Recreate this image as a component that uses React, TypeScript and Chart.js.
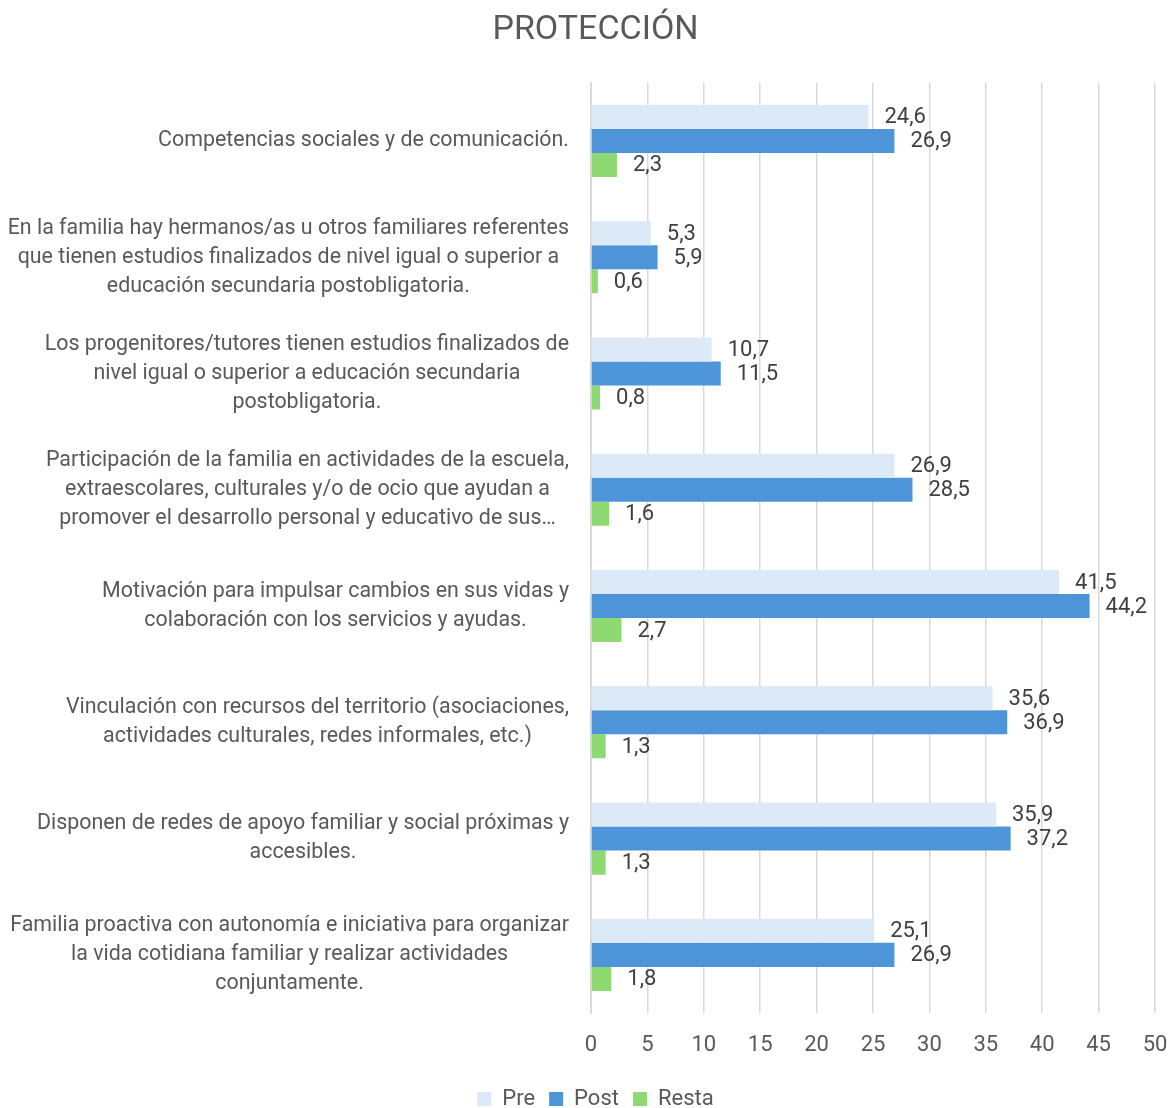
import React, { useEffect, useRef } from "react";
import { Chart, registerables } from "chart.js";

Chart.register(...registerables);

const categories: string[][] = [
  ["Competencias sociales y de comunicación."],
  [
    "En la familia hay hermanos/as u otros familiares referentes",
    "que tienen estudios finalizados de nivel igual o superior a",
    "educación secundaria postobligatoria.",
  ],
  [
    "Los progenitores/tutores tienen estudios finalizados de",
    "nivel igual o superior a educación secundaria",
    "postobligatoria.",
  ],
  [
    "Participación de la familia en actividades de la escuela,",
    "extraescolares, culturales y/o de ocio que ayudan a",
    "promover el desarrollo personal y educativo de sus…",
  ],
  [
    "Motivación para impulsar cambios en sus vidas y",
    "colaboración con los servicios y ayudas.",
  ],
  [
    "Vinculación con recursos del territorio (asociaciones,",
    "actividades culturales, redes informales, etc.)",
  ],
  [
    "Disponen de redes de apoyo familiar y social próximas y",
    "accesibles.",
  ],
  [
    "Familia proactiva con autonomía e iniciativa para organizar",
    "la vida cotidiana familiar y realizar actividades",
    "conjuntamente.",
  ],
];

const preValues = [24.6, 5.3, 10.7, 26.9, 41.5, 35.6, 35.9, 25.1];
const postValues = [26.9, 5.9, 11.5, 28.5, 44.2, 36.9, 37.2, 26.9];
const restaValues = [2.3, 0.6, 0.8, 1.6, 2.7, 1.3, 1.3, 1.8];
const seriesNames = ["Pre", "Post", "Resta"];
const xTicks = [0, 5, 10, 15, 20, 25, 30, 35, 40, 45, 50];

const FONT = "Roboto, 'Liberation Sans', sans-serif";
const TEXT_COLOR = "#595959";
const LABEL_COLOR = "#404040";

const categoryLabelPlugin = {
  id: "categoryLabels",
  afterDraw(chart: any) {
    const ctx = chart.ctx;
    const yScale = chart.scales.y;
    ctx.save();
    ctx.font = `21.4px ${FONT}`;
    ctx.fillStyle = TEXT_COLOR;
    ctx.textBaseline = "middle";
    ctx.textAlign = "center";
    const right = yScale.right - 22;
    const lh = 29;
    categories.forEach((lines, i) => {
      const cy = yScale.getPixelForValue(i);
      const w = Math.max(...lines.map((l) => ctx.measureText(l).width));
      const cx = right - w / 2;
      const startY = cy - ((lines.length - 1) * lh) / 2;
      lines.forEach((l, j) => ctx.fillText(l, cx, startY + j * lh));
    });
    ctx.restore();
  },
};

const valueLabelPlugin = {
  id: "valueLabels",
  afterDatasetsDraw(chart: any) {
    const ctx = chart.ctx;
    ctx.save();
    ctx.font = `22px ${FONT}`;
    ctx.fillStyle = LABEL_COLOR;
    ctx.textBaseline = "middle";
    ctx.textAlign = "left";
    chart.data.datasets.forEach((ds: any, di: number) => {
      const meta = chart.getDatasetMeta(di);
      meta.data.forEach((bar: any, i: number) => {
        const v = ds.data[i] as number;
        const txt = v.toFixed(1).replace(".", ",");
        ctx.fillText(txt, bar.x + 16, bar.y + 1);
      });
    });
    ctx.restore();
  },
};

export default function App() {
  const ref = useRef<HTMLCanvasElement | null>(null);
  useEffect(() => {
    if (!ref.current) return;
    const chart = new Chart(ref.current, {
      type: "bar",
      data: {
        labels: categories.map((c) => c.join(" ")),
        datasets: [
          {
            label: seriesNames[0],
            data: preValues,
            backgroundColor: "#dce9f6",
            borderWidth: 0,
          },
          {
            label: seriesNames[1],
            data: postValues,
            backgroundColor: "#4e94d8",
            borderWidth: 0,
          },
          {
            label: seriesNames[2],
            data: restaValues,
            backgroundColor: "#8fd972",
            borderWidth: 0,
          },
        ],
      },
      options: {
        indexAxis: "y",
        animation: false,
        responsive: true,
        maintainAspectRatio: false,
        layout: { padding: { left: 36, right: 18, top: 6, bottom: -12 } },
        datasets: {
          bar: { categoryPercentage: 0.62, barPercentage: 1.0 },
        },
        plugins: {
          title: {
            display: true,
            text: "PROTECCIÓN",
            color: TEXT_COLOR,
            font: { family: FONT, size: 34, weight: "normal" },
            padding: { top: 4, bottom: 32 },
          },
          legend: {
            position: "bottom",
            labels: {
              color: TEXT_COLOR,
              font: { family: FONT, size: 22 },
              boxWidth: 14,
              boxHeight: 14,
              padding: 14,
            },
          },
          tooltip: { enabled: false },
        },
        scales: {
          x: {
            min: 0,
            max: 50,
            afterBuildTicks: (scale: any) => {
              scale.ticks = xTicks.map((v) => ({ value: v }));
            },
            ticks: {
              color: TEXT_COLOR,
              font: { family: FONT, size: 22 },
              padding: 0,
              maxRotation: 0,
            },
            grid: {
              color: "#d9d9d9",
              lineWidth: 1.5,
              drawTicks: true,
              tickLength: 19,
              tickColor: "rgba(0,0,0,0)",
            },
            border: { display: false },
            afterFit: (scale: any) => {
              scale.height = 61;
            },
          },
          y: {
            ticks: { display: false },
            grid: { display: false, drawTicks: false },
            border: { display: true, color: "#d4d4d4", width: 1.5 },
            afterFit: (scale: any) => {
              scale.width = 555;
            },
          },
        },
      },
      plugins: [categoryLabelPlugin, valueLabelPlugin],
    });
    return () => chart.destroy();
  }, []);
  return (
    <div
      style={{
        position: "fixed",
        left: 0,
        top: 0,
        width: 1173,
        height: 1108,
        background: "#fff",
      }}
    >
      <canvas ref={ref} />
    </div>
  );
}
